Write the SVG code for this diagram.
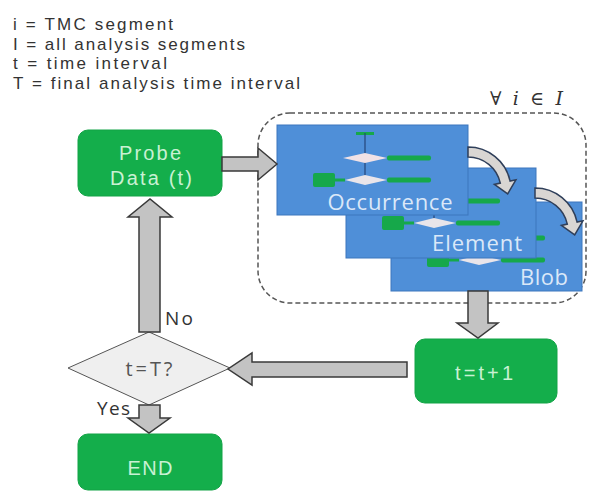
<svg xmlns="http://www.w3.org/2000/svg" xmlns:xlink="http://www.w3.org/1999/xlink" width="589" height="496" viewBox="0 0 589 496">
<style>
.legend{font-family:"Liberation Sans",Arial,sans-serif;font-size:17px;fill:#333}
.gbox{fill:#14ae4b;stroke:#12a346;stroke-width:1}
.gtxt{font-family:"Liberation Sans",Arial,sans-serif;font-size:20px;fill:#c9f1d3;text-anchor:middle}
.panel{fill:#4f8fd8;stroke:#3d76bd;stroke-width:1}
.ptxt{font-family:"Open Sans","Liberation Sans",sans-serif;font-size:22px;fill:#dbe8f8;text-anchor:middle}
.barrow{fill:#c3c3c3;stroke:#3a3a3a;stroke-width:1.5;stroke-linejoin:miter}
.carrow{fill:#d9d6d3;stroke:#2f3f5a;stroke-width:1.5}
.lbl{font-family:"Open Sans","Liberation Sans",sans-serif;font-size:19px;fill:#333}
.mbar{fill:#16a84a}
</style>
<defs>
<g id="mini">
<rect class="mbar" x="79" y="7" width="18" height="3"/>
<line x1="88" y1="8" x2="88" y2="56" stroke="#26457a" stroke-width="1.2"/>
<polygon points="66,33 88,28 110,33 88,38" fill="#f1e2e6"/>
<rect class="mbar" x="110" y="30.5" width="44" height="5" rx="2"/>
<polygon points="68,55 88,50 110,55 88,60" fill="#e9e5ea"/>
<rect class="mbar" x="36" y="48" width="22" height="14" rx="2"/>
<line x1="58" y1="55" x2="68" y2="55" stroke="#16a84a" stroke-width="3"/>
<rect class="mbar" x="110" y="52.5" width="44" height="5" rx="2"/>
</g>
<path id="carr" d="M468,147 A43,43 0 0 1 510.1,181.1 L515.9,179.8 L507.7,193.8 L494.4,184.4 L500.3,183.1 A33,33 0 0 0 468,157 Z"/>
</defs>

<g id="legend">
<text class="legend" x="13" y="30" textLength="160">i = TMC segment</text>
<text class="legend" x="13" y="49.5" textLength="232">I = all analysis segments</text>
<text class="legend" x="13" y="69" textLength="154">t = time interval</text>
<text class="legend" x="13" y="88.5" textLength="287">T = final analysis time interval</text>
</g>

<g id="loop">
<rect x="258" y="113" width="328" height="190" rx="32" fill="none" stroke="#555" stroke-width="1.5" stroke-dasharray="5,3"/>
<text x="490" y="105" font-family="'DejaVu Serif',serif" font-size="19" fill="#333" textLength="73">∀ <tspan font-style="italic">i</tspan> ∈ <tspan font-style="italic">I</tspan></text>
</g>

<g id="blob">
<rect class="panel" x="391" y="202" width="191" height="89"/>
<use xlink:href="#mini" transform="translate(391,205)"/>
<text class="ptxt" x="544" y="285" textLength="48">Blob</text>
</g>
<g id="element">
<rect class="panel" x="346" y="168" width="190" height="90"/>
<use xlink:href="#mini" transform="translate(346,168)"/>
<text class="ptxt" x="477" y="251" textLength="90">Element</text>
</g>
<g id="occurrence">
<rect class="panel" x="277" y="125" width="191" height="90"/>
<use xlink:href="#mini" transform="translate(277,125)"/>
<text class="ptxt" x="390" y="210" textLength="125">Occurrence</text>
</g>

<g id="probe">
<rect class="gbox" x="78" y="130" width="144" height="66" rx="10"/>
<text class="gtxt" x="150" y="160" textLength="62">Probe</text>
<text class="gtxt" x="151" y="185" textLength="82">Data (t)</text>
</g>

<g id="increment">
<rect class="gbox" x="415" y="339" width="142" height="64" rx="10"/>
<text class="gtxt" x="484" y="380" textLength="58">t=t+1</text>
</g>

<g id="decision">
<polygon points="68,368 149,332 230,368 149,405" fill="#efefef" stroke="#555" stroke-width="1"/>
<text x="149" y="376" text-anchor="middle" font-family="'Open Sans','Liberation Sans',sans-serif" font-size="20" fill="#555" textLength="47">t=T?</text>
</g>

<g id="end">
<rect class="gbox" x="78" y="434" width="144" height="56" rx="10"/>
<text class="gtxt" x="150" y="475" textLength="45">END</text>
</g>

<g id="connectors">
<polygon class="barrow" points="222,157 258,157 258,148 277,164 258,180 258,171 222,171"/>
<polygon class="barrow" points="139,332 139,217 128,217 150,199 172,217 160,217 160,332"/>
<polygon class="barrow" points="407,362 252,362 252,353 228,369 252,385 252,377 407,377"/>
<polygon class="barrow" points="468,291 468,323 457,323 478,338 498,323 488,323 488,291"/>
<polygon class="barrow" points="139,405 139,418 128,418 149,433 170,418 160,418 160,405"/>
<use class="carrow" xlink:href="#carr"/>
<use class="carrow" xlink:href="#carr" transform="translate(67,41)"/>
<text class="lbl" x="165" y="325" textLength="28">No</text>
<text class="lbl" x="97" y="415" textLength="33">Yes</text>
</g>
</svg>
